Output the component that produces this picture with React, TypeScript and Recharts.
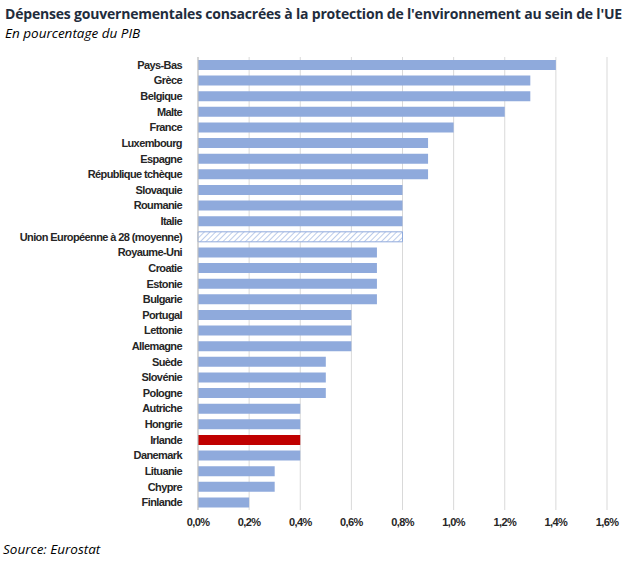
import { BarChart, Bar, XAxis, YAxis, CartesianGrid, Cell } from 'recharts';

const countries = [
  'Pays-Bas', 'Grèce', 'Belgique', 'Malte', 'France', 'Luxembourg', 'Espagne',
  'République tchèque', 'Slovaquie', 'Roumanie', 'Italie', 'Union Européenne à 28 (moyenne)',
  'Royaume-Uni', 'Croatie', 'Estonie', 'Bulgarie', 'Portugal', 'Lettonie', 'Allemagne',
  'Suède', 'Slovénie', 'Pologne', 'Autriche', 'Hongrie', 'Irlande', 'Danemark',
  'Lituanie', 'Chypre', 'Finlande',
];
const shares = [
  1.4, 1.3, 1.3, 1.2, 1.0, 0.9, 0.9, 0.9, 0.8, 0.8, 0.8, 0.8, 0.7, 0.7, 0.7, 0.7,
  0.6, 0.6, 0.6, 0.5, 0.5, 0.5, 0.4, 0.4, 0.4, 0.4, 0.3, 0.3, 0.2,
];
const xTicks = [0, 0.2, 0.4, 0.6, 0.8, 1.0, 1.2, 1.4, 1.6];
const average = 'Union Européenne à 28 (moyenne)';
const highlight = 'Irlande';

const data = countries.map((name, i) => ({ name, value: shares[i] }));

const labelFont = "'Liberation Sans', Arial, sans-serif";
const textFont = "'Open Sans', 'Noto Sans', sans-serif";

const fmt = (v: number) => v.toFixed(1).replace('.', ',') + '%';

// plain text tick so the long EU label stays on one line
const CountryTick = (props: any) => {
  const { x, y, payload } = props;
  return (
    <text
      x={x}
      y={y}
      dy={4}
      textAnchor="end"
      fontFamily={labelFont}
      fontWeight={700}
      fontSize={11}
      letterSpacing={-0.6}
      fill="#262626"
    >
      {payload.value}
    </text>
  );
};

const PctTick = (props: any) => {
  const { x, y, payload } = props;
  return (
    <text
      x={x}
      y={y}
      dy={10}
      textAnchor="middle"
      fontFamily={labelFont}
      fontWeight={700}
      fontSize={11}
      letterSpacing={-0.6}
      fill="#262626"
    >
      {fmt(payload.value)}
    </text>
  );
};

export default function App() {
  return (
    <div style={{ position: 'absolute', left: 0, top: 0, width: 642, height: 563, background: '#fff' }}>
      <div style={{ position: 'absolute', left: 5, top: 4, fontFamily: textFont, fontWeight: 700, fontSize: 14, color: '#1f2d3d', letterSpacing: -0.2, whiteSpace: 'nowrap' }}>
        Dépenses gouvernementales consacrées à la protection de l'environnement au sein de l'UE
      </div>
      <div style={{ position: 'absolute', left: 5, top: 24, fontFamily: textFont, fontStyle: 'italic', fontSize: 13.5, color: '#000', whiteSpace: 'nowrap' }}>
        En pourcentage du PIB
      </div>
      <BarChart
        width={642}
        height={563}
        data={data}
        layout="vertical"
        margin={{ top: 57, right: 35, bottom: 23, left: 0 }}
        barSize={10}
      >
        <defs>
          <pattern id="hatch" width="4" height="4" patternUnits="userSpaceOnUse" patternTransform="rotate(45)">
            <rect width="4" height="4" fill="#fff" />
            <line x1="0" y1="0" x2="0" y2="4" stroke="#8faadc" strokeWidth="1.2" />
          </pattern>
        </defs>
        <CartesianGrid horizontal={false} stroke="#d9d9d9" strokeWidth={1} />
        <XAxis
          type="number"
          domain={[0, 1.6]}
          ticks={xTicks}
          axisLine={false}
          tickLine={false}
          tickMargin={0}
          height={30}
          tick={<PctTick />}
        />
        <YAxis
          type="category"
          dataKey="name"
          width={198}
          interval={0}
          axisLine={{ stroke: '#bfbfbf' }}
          tickLine={false}
          tickMargin={10}
          tick={<CountryTick />}
        />
        <Bar dataKey="value" isAnimationActive={false}>
          {data.map((d) => (
            <Cell
              key={d.name}
              fill={d.name === average ? 'url(#hatch)' : d.name === highlight ? '#c00000' : '#8faadc'}
              stroke={d.name === average ? '#8faadc' : 'none'}
              strokeWidth={1}
            />
          ))}
        </Bar>
      </BarChart>
      <div style={{ position: 'absolute', left: 3, top: 540, fontFamily: textFont, fontStyle: 'italic', fontSize: 13.5, color: '#000', whiteSpace: 'nowrap' }}>
        Source: Eurostat
      </div>
    </div>
  );
}
